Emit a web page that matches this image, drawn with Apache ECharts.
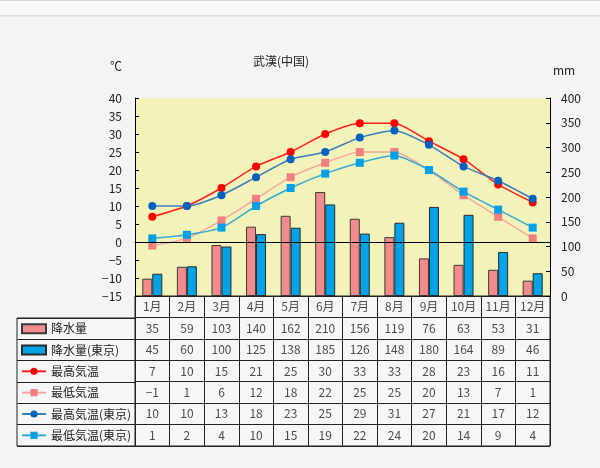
<!DOCTYPE html>
<html><head><meta charset="utf-8">
<script src="https://cdn.jsdelivr.net/npm/echarts@6/dist/echarts.min.js"></script>
<style>html,body{margin:0;padding:0;background:#f4f4f4}#c{width:600px;height:468px}</style>
</head><body><div id="c"></div>
<script>
const months = ['1月','2月','3月','4月','5月','6月','7月','8月','9月','10月','11月','12月'];
const precip = [35,59,103,140,162,210,156,119,76,63,53,31];
const precipTokyo = [45,60,100,125,138,185,126,148,180,164,89,46];
const maxTemp = [7,10,15,21,25,30,33,33,28,23,16,11];
const minTemp = [-1,1,6,12,18,22,25,25,20,13,7,1];
const maxTempTokyo = [10,10,13,18,23,25,29,31,27,21,17,12];
const minTempTokyo = [1,2,4,10,15,19,22,24,20,14,9,4];
const seriesNames = ['降水量','降水量(東京)','最高気温','最低気温','最高気温(東京)','最低気温(東京)'];
const tempAxis = {min:-15, max:40, interval:5};
const precipAxis = {min:0, max:400, interval:50};
const titleText = '武漢(中国)';
const tempUnit = '℃';
const precipUnit = 'mm';

const FONT = '"Noto Sans CJK JP", "Noto Sans CJK SC", sans-serif';
const INK = '#222';
const fmtNum = v => String(v).replace('-', '−');

// table rows: header + 6 series rows
const tableRows = [months, precip, precipTokyo, maxTemp, minTemp, maxTempTokyo, minTempTokyo];
const tableData = [];
tableRows.forEach((row, r) => row.forEach((v, m) => tableData.push([m, r])));

const chart = echarts.init(document.getElementById('c'), null, {renderer:'canvas'});

function lineSeries(name, data, lineColor, markColor, symbol, extra) {
  return Object.assign({
    name, type:'line', xAxisIndex:0, yAxisIndex:0, data,
    smooth:0.2, symbol, symbolSize:8, showSymbol:true,
    lineStyle:{color:lineColor, width:1.5},
    itemStyle:{color:markColor},
    emphasis:{disabled:true}, animation:false, z:3
  }, extra || {});
}

const option = {
  backgroundColor:'#f4f4f4',
  animation:false,
  textStyle:{fontFamily:FONT},
  graphic:[
    {type:'rect', shape:{x:0,y:0,width:600,height:15}, style:{fill:'#f8f8f8'}, silent:true},
    {type:'rect', shape:{x:0,y:0,width:600,height:1}, style:{fill:'#d6d6d6'}, silent:true},
    {type:'rect', shape:{x:0,y:15,width:600,height:1.5}, style:{fill:'#dedede'}, silent:true},
    {type:'text', x:281, y:61, style:{text:titleText, textAlign:'center', textVerticalAlign:'middle', font:'12px '+FONT, fill:INK}, silent:true},
    {type:'text', x:116, y:66, style:{text:tempUnit, textAlign:'center', textVerticalAlign:'middle', font:'12px '+FONT, fill:INK}, silent:true},
    {type:'text', x:564, y:70, style:{text:precipUnit, textAlign:'center', textVerticalAlign:'middle', font:'12px '+FONT, fill:INK}, silent:true}
  ],
  grid:[
    {left:135, width:415, top:98, height:198, show:true, backgroundColor:'#f3f3b9', borderWidth:0},
    {left:135, width:415, top:296, height:150, show:true, backgroundColor:'#f6f6f6', borderColor:INK, borderWidth:1},
    {left:17, width:118, top:318, height:128, show:true, backgroundColor:'#f6f6f6', borderColor:INK, borderWidth:1}
  ],
  legend:{
    orient:'vertical', left:21, top:318, padding:0, itemWidth:24, itemHeight:9, itemGap:0,
    selectedMode:false,
    textStyle:{fontSize:12, lineHeight:21.33, color:INK, fontFamily:FONT},
    data:[
      {name:seriesNames[0], icon:'rect'},
      {name:seriesNames[1], icon:'rect'},
      seriesNames[2], seriesNames[3], seriesNames[4], seriesNames[5]
    ]
  },
  xAxis:[
    {gridIndex:0, type:'category', data:months,
     axisLine:{show:true, lineStyle:{color:'#000'}}, axisTick:{show:false}, axisLabel:{show:false}, splitLine:{show:false}},
    {gridIndex:1, type:'category', data:months,
     axisLine:{show:false}, axisTick:{show:false}, axisLabel:{show:false},
     splitLine:{show:true, interval:0, lineStyle:{color:INK, width:1}}},
    {gridIndex:2, type:'category', data:['_'],
     axisLine:{show:false}, axisTick:{show:false}, axisLabel:{show:false}, splitLine:{show:false}}
  ],
  yAxis:[
    {gridIndex:0, type:'value', position:'left', min:tempAxis.min, max:tempAxis.max, interval:tempAxis.interval,
     axisLine:{show:true, lineStyle:{color:'#000'}}, axisTick:{show:true, inside:true, length:4, lineStyle:{color:'#000'}},
     axisLabel:{formatter:fmtNum, fontSize:12, color:INK, margin:13, fontFamily:FONT}, splitLine:{show:false}},
    {gridIndex:0, type:'value', position:'right', min:precipAxis.min, max:precipAxis.max, interval:precipAxis.interval,
     axisLine:{show:true, lineStyle:{color:'#000'}}, axisTick:{show:true, inside:true, length:4, lineStyle:{color:'#000'}},
     axisLabel:{fontSize:12, color:INK, margin:11, fontFamily:FONT}, splitLine:{show:false}},
    {gridIndex:1, type:'category', data:tableRows.map((_, i) => String(i)), inverse:true,
     axisLine:{show:false}, axisTick:{show:false}, axisLabel:{show:false},
     splitLine:{show:true, interval:0, lineStyle:{color:INK, width:1}}},
    {gridIndex:2, type:'category', data:seriesNames, inverse:true,
     axisLine:{show:false}, axisTick:{show:false}, axisLabel:{show:false},
     splitLine:{show:true, interval:0, lineStyle:{color:INK, width:1}}}
  ],
  series:[
    {name:seriesNames[0], type:'bar', xAxisIndex:0, yAxisIndex:1, data:precip, barWidth:10, barGap:'0%',
     itemStyle:{color:'#f28c8c', borderColor:'#3a3a3a', borderWidth:1}, emphasis:{disabled:true}},
    {name:seriesNames[1], type:'bar', xAxisIndex:0, yAxisIndex:1, data:precipTokyo, barWidth:10, barGap:'0%',
     itemStyle:{color:'#00a2e8', borderColor:'#2a2a2a', borderWidth:1}, emphasis:{disabled:true}},
    lineSeries(seriesNames[2], maxTemp, '#ff2020', '#ff0000', 'circle', {
      markLine:{silent:true, symbol:['none','none'], label:{show:false},
        lineStyle:{color:'#000', type:'solid', width:1}, data:[{yAxis:0}], animation:false}
    }),
    lineSeries(seriesNames[3], minTemp, '#f4a89c', '#f08080', 'rect'),
    lineSeries(seriesNames[4], maxTempTokyo, '#3b7fc0', '#0062be', 'circle'),
    lineSeries(seriesNames[5], minTempTokyo, '#35aad6', '#00a0e8', 'rect'),
    {name:'table', type:'scatter', xAxisIndex:1, yAxisIndex:2, data:tableData, symbolSize:1,
     itemStyle:{color:'rgba(0,0,0,0)'}, silent:true,
     label:{show:true, position:'inside', fontSize:12, color:INK, fontFamily:FONT,
       formatter:p => fmtNum(tableRows[p.value[1]][p.value[0]])}}
  ]
};
chart.setOption(option);
</script>
</body></html>
